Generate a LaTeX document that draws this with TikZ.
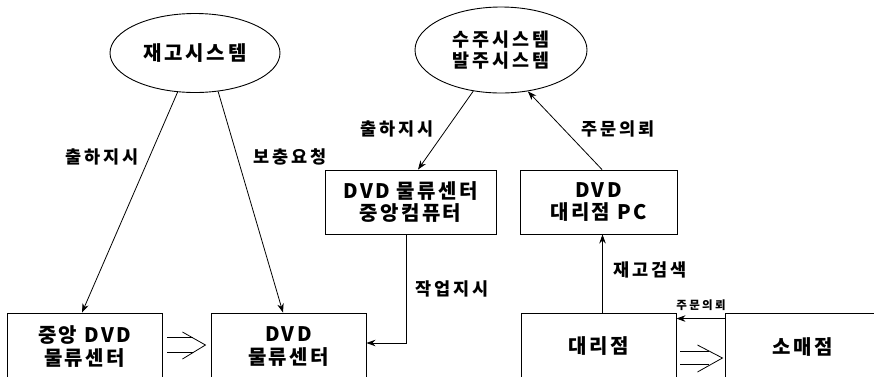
\documentclass[tikz,border=0pt]{standalone}
\usepackage{fontspec}
\usetikzlibrary{shapes.geometric,arrows.meta,calc}
\newfontfamily\krA[LetterSpace=14]{Noto Sans CJK KR}
\newfontfamily\krE[LetterSpace=17]{Noto Sans CJK KR}
\newfontfamily\krB[LetterSpace=12]{Noto Sans CJK KR}
\newfontfamily\krC[LetterSpace=16]{Noto Sans CJK KR}
\newfontfamily\krD[LetterSpace=20]{Noto Sans CJK KR}
\begin{document}
\begin{tikzpicture}[x=1pt,y=-1pt,
  sys/.style={ellipse, draw, line width=0.9pt, inner sep=0pt, align=center},
  box/.style={draw, line width=0.9pt, rectangle, inner sep=0pt, align=center,
     font=\krB\bfseries\fontsize{20}{22.5}\selectfont},
  lbl/.style={inner sep=0pt, font=\krC\bfseries\fontsize{17.5}{19}\selectfont},
  slbl/.style={inner sep=0pt, font=\krD\bfseries\fontsize{11.5}{13}\selectfont},
  arr/.style={-{Stealth[length=9pt,width=6.5pt]}, line width=0.8pt},
  ln/.style={line width=0.8pt}]
\useasboundingbox (0,0) rectangle (874,376);
\clip (0,0) rectangle (874,376);

% ellipses
\node[sys, minimum width=170, minimum height=79,
      font=\krA\bfseries\fontsize{20}{22}\selectfont] (e1) at (195,53) {재고시스템};
\node[sys, minimum width=172, minimum height=86,
      font=\krE\bfseries\fontsize{18.5}{20.5}\selectfont] (e2) at (501,50) {수주시스템\\발주시스템};

% boxes
\node[box, minimum width=171, minimum height=64] (cc) at (410.5,202) {DVD 물류센터\\중앙컴퓨터};
\node[box, minimum width=157, minimum height=64] (pc) at (598.5,202) {DVD\\대리점 PC};
\node[box, minimum width=155, minimum height=67] (b1) at (84.5,346.5) {중앙 DVD\\물류센터};
\node[box, minimum width=155, minimum height=67] (b2) at (288.5,346.5) {DVD\\물류센터};
\node[box, minimum width=155, minimum height=67] (b3) at (598.5,346.5) {대리점};
\node[box, minimum width=155, minimum height=67] (b4) at (802.5,346.5) {소매점};

% connectors
\draw[arr] (e1.246) -- ($(b1.north)+(-2.5,0)$);
\draw[arr] (e1.301) -- ($(b2.north)+(-5.5,0)$);
\draw[arr] (e2.236) -- ($(cc.north)+(7.5,0)$);
\draw[arr] ($(pc.north)+(3.5,0)$) -- (e2.303);
\draw[arr] ($(cc.south)+(-4.5,0)$) |- ($(b2.east)+(0,-3.5)$);
\draw[arr] ($(b3.north)+(4,0)$) -- ($(pc.south)+(4,0)$);
\draw[arr] ($(b4.north west)+(0,6)$) -- ($(b3.north east)+(0,6)$);

% open double arrows
\coordinate (d1) at ($(b1.east)+(5,0)$);
\draw[ln] ($(d1)+(0,-9.5)$) -- ++(26,0);
\draw[ln] ($(d1)+(0,5.5)$) -- ++(26,0);
\draw[ln] ($(d1)+(15,-14.5)$) -- ($(d1)+(38,-1.5)$) -- ($(d1)+(15,12.5)$);
\coordinate (d2) at ($(b3.east)+(4,0)$);
\draw[ln] ($(d2)+(0,4.5)$) -- ++(29,0);
\draw[ln] ($(d2)+(0,17.5)$) -- ++(29,0);
\draw[ln] ($(d2)+(17,-1.5)$) -- ($(d2)+(42,11.5)$) -- ($(d2)+(17,25.5)$);

% labels
\node[lbl] (l1) at (102,157) {출하지시};
\node[lbl] (l2) at (290,157) {보충요청};
\node[lbl] (l3) at (397,129) {출하지시};
\node[lbl] (l4) at (618,129) {주문의뢰};
\node[lbl] (l5) at (452,289) {작업지시};
\node[lbl] (l6) at (650,270) {재고검색};
\node[slbl] (l7) at (701,305) {주문의뢰};
\end{tikzpicture}
\end{document}
